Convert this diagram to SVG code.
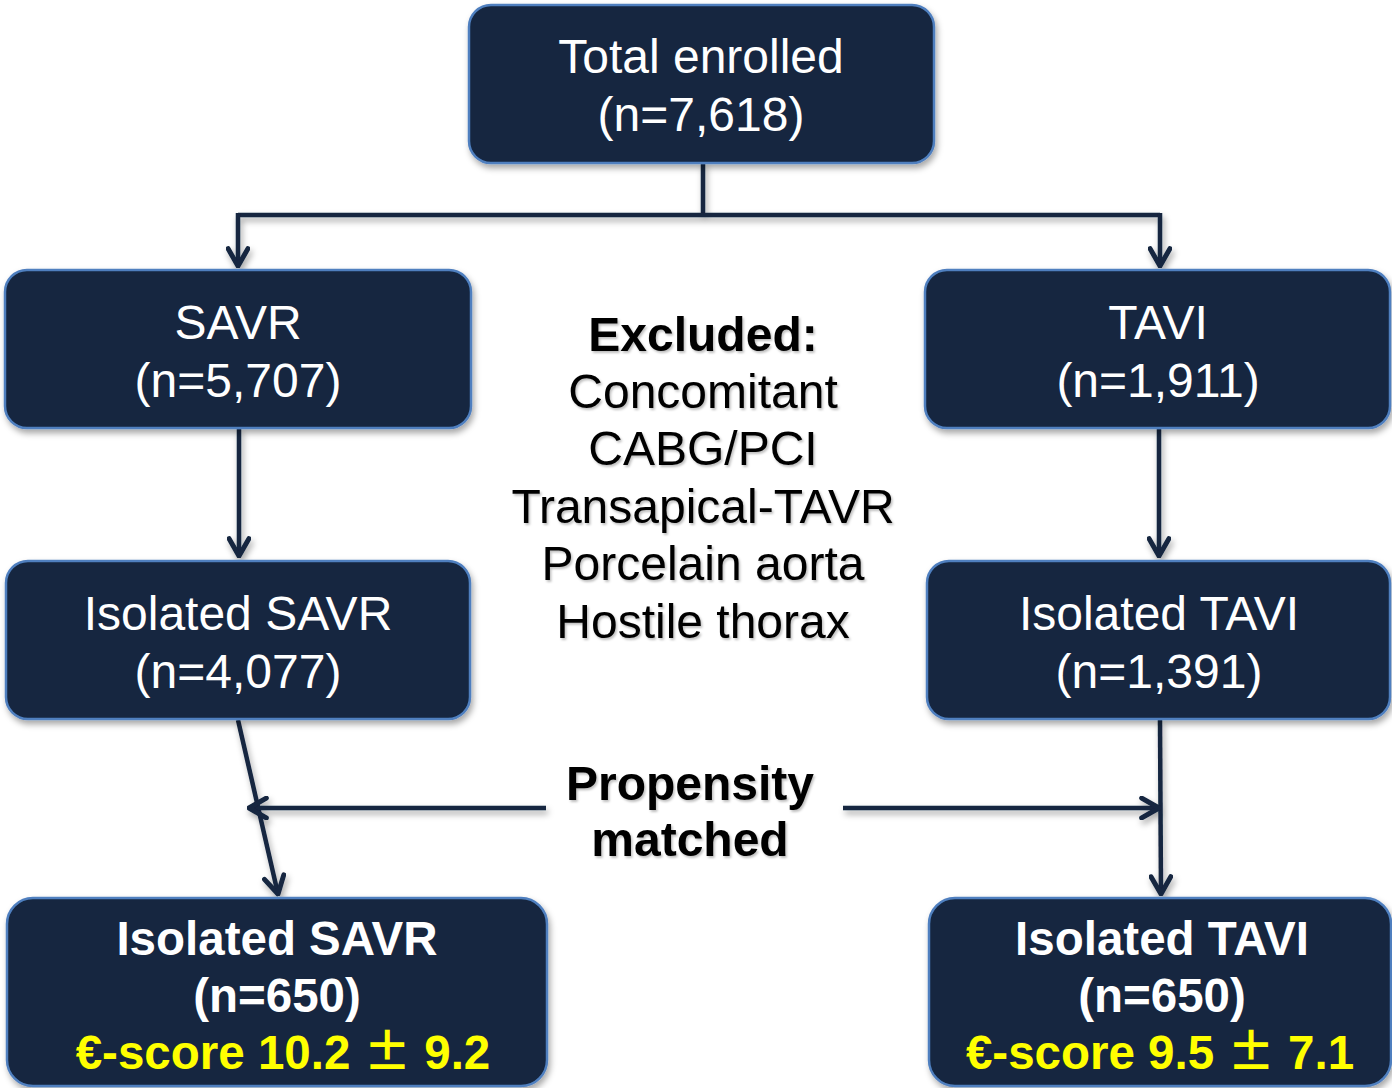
<svg xmlns="http://www.w3.org/2000/svg" width="1392" height="1088" viewBox="0 0 1392 1088">
<style>
.box{fill:#13253F;stroke:#4F7FBF;stroke-width:2.5}
.t{font-family:"Liberation Sans",Arial,sans-serif;font-size:48px;fill:#fff;text-anchor:middle}
.b{font-family:"Liberation Sans",Arial,sans-serif;font-size:47.5px;font-weight:bold;fill:#fff;text-anchor:middle}
.y{fill:#FFFF00}
.pm{font-family:"Noto Sans CJK JP","Liberation Sans",sans-serif;font-weight:bold}
.k{font-family:"Liberation Sans",Arial,sans-serif;font-size:48px;fill:#000;text-anchor:middle}
.kb{font-weight:bold}
.c{fill:none;stroke:#13253F;stroke-width:4.5}
</style>
<defs>
<filter id="sh" x="-10%" y="-10%" width="120%" height="130%">
<feDropShadow dx="2" dy="4" stdDeviation="3" flood-color="#000" flood-opacity="0.35"/>
</filter>
<filter id="tsh" x="-5%" y="-10%" width="110%" height="130%">
<feDropShadow dx="1.5" dy="2" stdDeviation="1.2" flood-color="#000" flood-opacity="0.25"/>
</filter>
<marker id="ah" viewBox="0 0 20 20" refX="18" refY="10" markerWidth="5.5" markerHeight="5.5" orient="auto" markerUnits="strokeWidth">
<path d="M4,2 L18,10 L4,18" fill="none" stroke="#13253F" stroke-width="4" stroke-linecap="round" stroke-linejoin="round"/>
</marker>
</defs>
<g id="connectors" filter="url(#sh)">
<path class="c" d="M703,163 V215"/>
<path class="c" d="M238,215 H1160"/>
<path class="c" d="M238,213 V266" marker-end="url(#ah)"/>
<path class="c" d="M1160,213 V266" marker-end="url(#ah)"/>
<path class="c" d="M239,428 V556" marker-end="url(#ah)"/>
<path class="c" d="M1159,428 V556" marker-end="url(#ah)"/>
<path class="c" d="M238,720 L278,894" marker-end="url(#ah)"/>
<path class="c" d="M1160,720 L1161,894" marker-end="url(#ah)"/>
<path class="c" d="M546,808 H249" marker-end="url(#ah)"/>
<path class="c" d="M843,808 H1159" marker-end="url(#ah)"/>
</g>
<g id="total">
<rect class="box" x="469" y="5" width="465" height="158" rx="22" filter="url(#sh)"/>
<text class="t" x="701" y="73">Total enrolled</text>
<text class="t" x="701" y="131">(n=7,618)</text>
</g>
<g id="savr">
<rect class="box" x="5" y="270" width="466" height="158" rx="22" filter="url(#sh)"/>
<text class="t" x="238" y="339">SAVR</text>
<text class="t" x="238" y="397">(n=5,707)</text>
</g>
<g id="tavi">
<rect class="box" x="925" y="270" width="465" height="158" rx="22" filter="url(#sh)"/>
<text class="t" x="1158" y="339">TAVI</text>
<text class="t" x="1158" y="397">(n=1,911)</text>
</g>
<g id="excluded" filter="url(#tsh)">
<text class="k kb" x="703" y="351">Excluded:</text>
<text class="k" x="703" y="408">Concomitant</text>
<text class="k" x="703" y="465">CABG/PCI</text>
<text class="k" x="703" y="523">Transapical-TAVR</text>
<text class="k" x="703" y="580">Porcelain aorta</text>
<text class="k" x="703" y="638">Hostile thorax</text>
</g>
<g id="iso-savr">
<rect class="box" x="6" y="561" width="464" height="158" rx="22" filter="url(#sh)"/>
<text class="t" x="238" y="630">Isolated SAVR</text>
<text class="t" x="238" y="688">(n=4,077)</text>
</g>
<g id="iso-tavi">
<rect class="box" x="927" y="561" width="463" height="158" rx="22" filter="url(#sh)"/>
<text class="t" x="1159" y="630">Isolated TAVI</text>
<text class="t" x="1159" y="688">(n=1,391)</text>
</g>
<g id="propensity" filter="url(#tsh)">
<text class="k kb" x="690" y="800">Propensity</text>
<text class="k kb" x="690" y="856">matched</text>
</g>
<g id="match-savr">
<rect class="box" x="7" y="898" width="540" height="188" rx="26" filter="url(#sh)"/>
<text class="b" x="277" y="955">Isolated SAVR</text>
<text class="b" x="277" y="1012">(n=650)</text>
<text class="b y" x="283" y="1069">€-score 10.2 <tspan class="pm">±</tspan> 9.2</text>
</g>
<g id="match-tavi">
<rect class="box" x="929" y="898" width="462" height="188" rx="26" filter="url(#sh)"/>
<text class="b" x="1162" y="955">Isolated TAVI</text>
<text class="b" x="1162" y="1012">(n=650)</text>
<text class="b y" x="1160" y="1069">€-score 9.5 <tspan class="pm">±</tspan> 7.1</text>
</g>
</svg>
